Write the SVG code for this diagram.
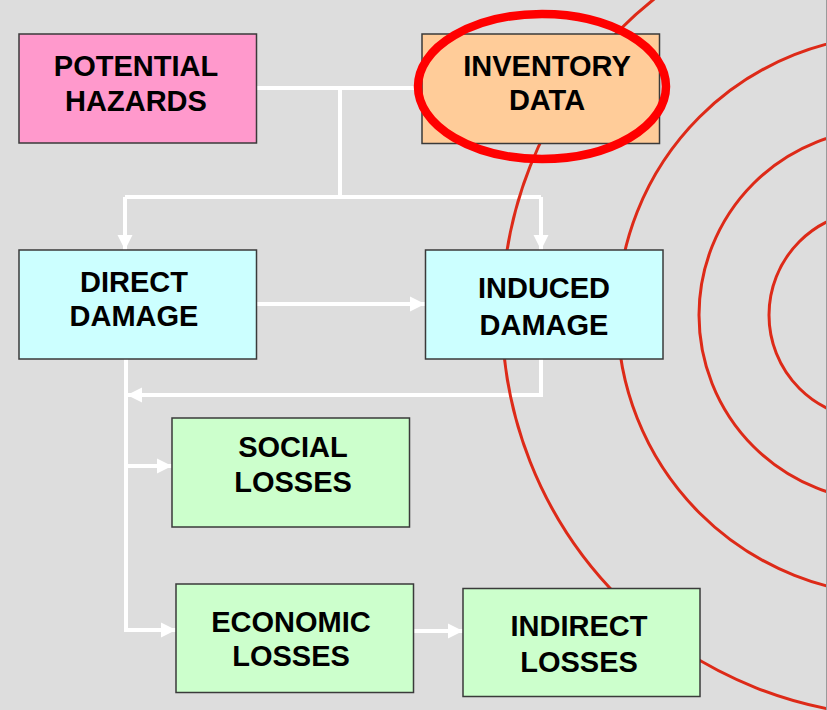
<svg xmlns="http://www.w3.org/2000/svg" width="827" height="710" viewBox="0 0 827 710">
  <defs>
    <style>
      .box { stroke: #3a3a3a; stroke-width: 1.5; }
      .lbl { font-family: "Liberation Sans", Arial, sans-serif; font-weight: bold; font-size: 29px; fill: #000; text-anchor: middle; }
      .con { fill: none; stroke: #ffffff; stroke-width: 4; }
      .arc { fill: none; stroke: #DD2A18; stroke-width: 3; }
    </style>
    <marker id="ah" markerUnits="userSpaceOnUse" markerWidth="16" markerHeight="16" viewBox="0 0 16 16" refX="15" refY="8" orient="auto">
      <path d="M0,0.5 L15,8 L0,15.5 Z" fill="#ffffff"/>
    </marker>
    <clipPath id="clip"><rect x="0" y="0" width="826" height="710"/></clipPath>
  </defs>
  <rect x="0" y="0" width="827" height="710" fill="#DDDDDD"/>
  <line x1="826.5" y1="0" x2="826.5" y2="710" stroke="#9a9a9a" stroke-width="1"/>

  <g id="connectors">
    <path class="con" d="M256,88 H422"/>
    <path class="con" d="M340,88 V197"/>
    <path class="con" d="M125,197 H541"/>
    <path class="con" d="M125,197 V250" marker-end="url(#ah)"/>
    <path class="con" d="M541,197 V250" marker-end="url(#ah)"/>
    <path class="con" d="M256,304 H425" marker-end="url(#ah)"/>
    <path class="con" d="M541,359 V395 H127" marker-end="url(#ah)"/>
    <path class="con" d="M126,359 V630 H176" marker-end="url(#ah)"/>
    <path class="con" d="M126,466 H172" marker-end="url(#ah)"/>
    <path class="con" d="M413,631 H463" marker-end="url(#ah)"/>
  </g>

  <g id="ripples" clip-path="url(#clip)">
    <circle class="arc" cx="904" cy="314" r="402"/>
    <circle class="arc" cx="897.5" cy="315" r="280"/>
    <circle class="arc" cx="885" cy="315" r="186"/>
    <circle class="arc" cx="873" cy="315" r="104"/>
  </g>

  <g id="potential-hazards">
    <rect class="box" x="19" y="34" width="237.5" height="109" fill="#FF99CC"/>
    <text class="lbl" x="136" y="76">POTENTIAL</text>
    <text class="lbl" x="136" y="111">HAZARDS</text>
  </g>
  <g id="inventory-data">
    <rect class="box" x="422" y="34" width="237.5" height="109.5" fill="#FFCC99"/>
    <text class="lbl" x="547" y="76">INVENTORY</text>
    <text class="lbl" x="547" y="110">DATA</text>
  </g>
  <g id="direct-damage">
    <rect class="box" x="19" y="250" width="237.5" height="109" fill="#CCFFFF"/>
    <text class="lbl" x="134" y="292">DIRECT</text>
    <text class="lbl" x="134" y="326">DAMAGE</text>
  </g>
  <g id="induced-damage">
    <rect class="box" x="425.5" y="250" width="237.5" height="109" fill="#CCFFFF"/>
    <text class="lbl" x="544" y="298">INDUCED</text>
    <text class="lbl" x="544" y="335">DAMAGE</text>
  </g>
  <g id="social-losses">
    <rect class="box" x="172" y="418" width="237.5" height="109" fill="#CCFFCC"/>
    <text class="lbl" x="293" y="457">SOCIAL</text>
    <text class="lbl" x="293" y="492">LOSSES</text>
  </g>
  <g id="economic-losses">
    <rect class="box" x="176" y="584" width="237.5" height="108.5" fill="#CCFFCC"/>
    <text class="lbl" x="291" y="632">ECONOMIC</text>
    <text class="lbl" x="291" y="666">LOSSES</text>
  </g>
  <g id="indirect-losses">
    <rect class="box" x="463" y="588.5" width="237" height="108" fill="#CCFFCC"/>
    <text class="lbl" x="579" y="636">INDIRECT</text>
    <text class="lbl" x="579" y="672">LOSSES</text>
  </g>

  <ellipse id="highlight" cx="542" cy="86.5" rx="124" ry="72.5" fill="none" stroke="#FF0000" stroke-width="8.5"/>
</svg>
